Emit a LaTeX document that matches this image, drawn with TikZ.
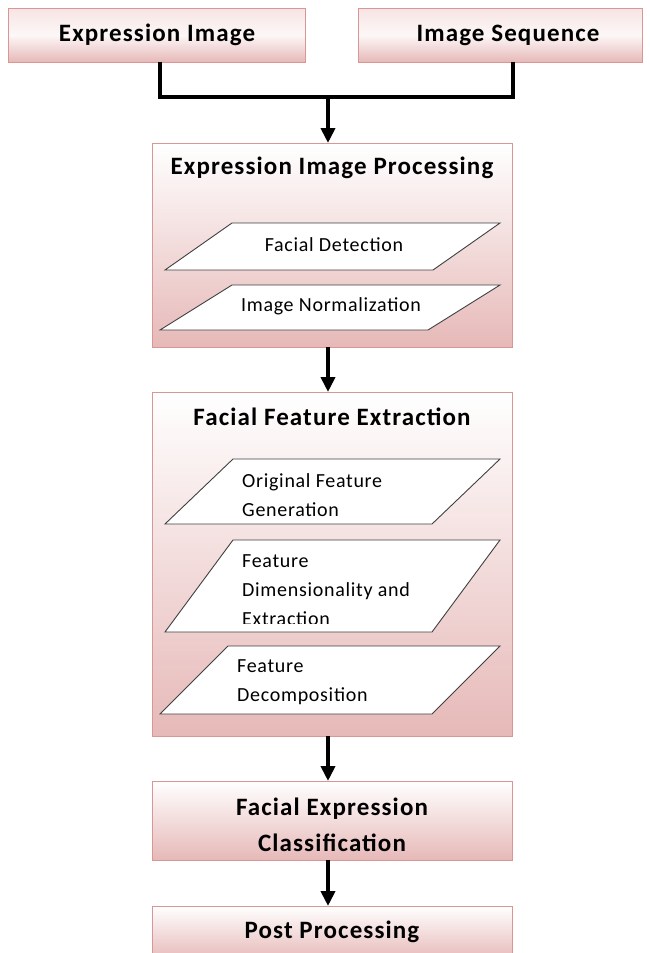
\documentclass[tikz,border=0pt]{standalone}
\usepackage{fontspec}
\setmainfont{Carlito}
\usetikzlibrary{arrows.meta}
\definecolor{boxedge}{HTML}{D99694}
\definecolor{boxbot}{HTML}{E6B9B8}
\definecolor{boxtop}{HTML}{F7E4E4}
\begin{document}
\begin{tikzpicture}[x=1pt,y=-1pt,
  topbox/.style={draw=boxedge, line width=0.8pt, top color=boxtop, bottom color=boxbot, middle color=white!70!boxtop},
  bigbox/.style={draw=boxedge, line width=0.8pt, top color=white, bottom color=boxbot},
  para/.style={draw=black!75, line width=0.9pt, fill=white},
  title/.style={font=\bfseries\fontsize{25}{36}\selectfont\addfontfeatures{LetterSpace=4.5}, align=center},
  subc/.style={font=\fontsize{20}{29}\selectfont\addfontfeatures{LetterSpace=3.5}},
  sub/.style={font=\fontsize{20}{29}\selectfont\addfontfeatures{LetterSpace=3.5}, align=left, anchor=north west, inner sep=0pt},
  arr/.style={line width=4pt, -{Triangle[length=15pt,width=14pt]}},
  conn/.style={line width=3.5pt}
]
\useasboundingbox (0,0) rectangle (650,953);
% top boxes
\path[topbox] (8,8) rectangle (305,62);
\path[topbox] (358,8) rectangle (642,62);
\node[title] (ei) at (157,35) {Expression Image};
\node[title] (is) at (508,35) {Image Sequence};
\coordinate (eib) at (160,62);
\coordinate (isb) at (513,62);
\coordinate (join) at (328,97);
% big boxes
\path[bigbox] (152,143) rectangle (512,347);
\path[bigbox] (152,392) rectangle (512,736);
\path[bigbox] (152,781) rectangle (512,860);
\path[bigbox] (152,906) rectangle (512,960);
\coordinate (eipt) at (328,143);
\coordinate (eipb) at (328,347);
\coordinate (ffet) at (328,392);
\coordinate (ffeb) at (328,736);
\coordinate (fect) at (328,781);
\coordinate (fecb) at (328,860);
\coordinate (ppt) at (328,906);
\node[title] (eip) at (332,168) {Expression Image Processing};
\node[title] (ffe) at (332,417) {Facial Feature Extraction};
\node[title] (fec) at (332,825) {Facial Expression\\Classification};
\node[title] (pp) at (332,932) {Post Processing};
% parallelograms
\path[para] (232,223) -- (500,223) -- (433,270) -- (165,270) -- cycle;
\node[subc] (fd) at (334,245) {Facial Detection};
\path[para] (232,285) -- (500,285) -- (428,330) -- (160,330) -- cycle;
\node[subc] (in) at (331,306) {Image Normalization};
\path[para] (233,459) -- (500,459) -- (432,524) -- (165,524) -- cycle;
\node[sub] (ofg) at (242,473) {Original Feature\\Generation};
\path[para] (233,540) -- (500,540) -- (432,632) -- (165,632) -- cycle;
\begin{scope}
\clip (233,540) -- (500,540) -- (432,623) -- (165,623) -- cycle;
\node[sub] (fdx) at (242,554) {Feature\\Dimensionality and\\Extraction};
\end{scope}
\path[para] (228,646) -- (500,646) -- (432,714) -- (160,714) -- cycle;
\node[sub] (fdc) at (237,659) {Feature\\Decomposition};
% connectors
\draw[conn] (eib) |- (join);
\draw[conn] (isb) |- (join);
\draw[arr] ([yshift=1.75pt]join) -- (eipt);
\draw[arr] (eipb) -- (ffet);
\draw[arr] (ffeb) -- (fect);
\draw[arr] (fecb) -- (ppt);
\end{tikzpicture}
\end{document}
